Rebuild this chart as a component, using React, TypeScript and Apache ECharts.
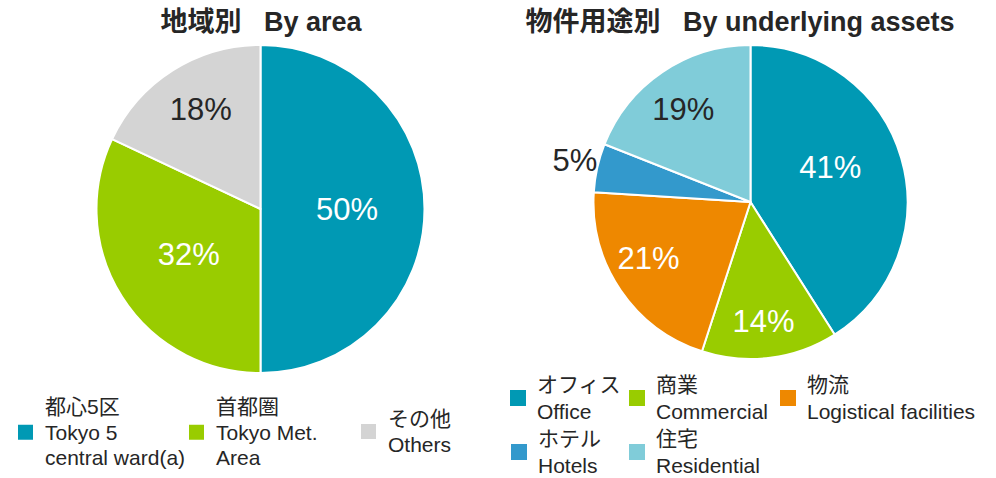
import React, { useEffect, useRef } from 'react';
import * as echarts from 'echarts';

// ---- Data ----
const areaTitle = '地域別   By area';
const areaNames = ['Tokyo 5 central ward(a)', 'Tokyo Met. Area', 'Others'];
const areaLabelsJa = ['都心5区', '首都圏', 'その他'];
const areaLabelsEn = ['Tokyo 5\ncentral ward(a)', 'Tokyo Met.\nArea', 'Others'];
const areaValues = [50, 32, 18];

const assetTitle = '物件用途別   By underlying assets';
const assetNames = ['Office', 'Commercial', 'Logistical facilities', 'Hotels', 'Residential'];
const assetLabelsJa = ['オフィス', '商業', '物流', 'ホテル', '住宅'];
const assetLabelsEn = ['Office', 'Commercial', 'Logistical facilities', 'Hotels', 'Residential'];
const assetValues = [41, 14, 21, 5, 19];

// ---- Styles ----
const areaColors = ['#0099B4', '#99CC00', '#D4D4D4'];
const assetColors = ['#0099B4', '#99CC00', '#EE8800', '#3399CC', '#80CCD9'];
const areaLabelMode = ['inner', 'inner', 'far'];
const assetLabelMode = ['inner', 'far', 'far', 'outside', 'far'];
const areaLabelDark = [false, false, true];
const assetLabelDark = [false, false, false, true, true];
// small label nudges (dx, dy) to follow the reference's label placement
const areaLabelNudge = [
  [1.5, 0],
  [0, 0],
  [2, -2],
];
const assetLabelNudge = [
  [1.5, -12],
  [-1.5, 4],
  [-6, -8.5],
  [0, -7],
  [-2, 3.5],
];

const FONT = "'Liberation Sans', Arial, 'Noto Sans CJK JP', sans-serif";
const TEXT = '#262626';
const LABEL_SIZE = 31;

const areaLegendPos = [
  { left: 18, top: 394 },
  { left: 189, top: 394 },
  { left: 361, top: 406 },
];
const assetLegendPos = [
  { left: 510, top: 371 },
  { left: 629, top: 371 },
  { left: 780, top: 371 },
  { left: 511, top: 425 },
  { left: 629, top: 425 },
];

function labelStyle(show: boolean, position: string, dark: boolean) {
  return {
    show,
    position,
    formatter: '{c}%',
    fontFamily: FONT,
    fontSize: LABEL_SIZE,
    color: dark ? TEXT : '#ffffff',
    distanceToLabelLine: 0,
  };
}

function buildPie(
  names: string[],
  values: number[],
  colors: string[],
  modes: string[],
  dark: boolean[],
  nudges: number[][],
  center: number[],
  radius: number,
  farRadius: number
) {
  const labelLayout = (p: any) => ({
    dx: nudges[p.dataIndex][0],
    dy: nudges[p.dataIndex][1],
  });
  const visible = {
    type: 'pie',
    center,
    radius,
    startAngle: 90,
    clockwise: true,
    avoidLabelOverlap: false,
    silent: true,
    itemStyle: { borderColor: '#ffffff', borderWidth: 2 },
    labelLine: { show: false, length: 0, length2: 0 },
    label: labelStyle(true, 'inside', false),
    labelLayout,
    data: names.map((n, i) => ({
      name: n,
      value: values[i],
      itemStyle: { color: colors[i] },
      label: labelStyle(
        modes[i] === 'inner' || modes[i] === 'outside',
        modes[i] === 'outside' ? 'outside' : 'inside',
        dark[i]
      ),
    })),
  };
  const carrier = {
    type: 'pie',
    center,
    radius: farRadius,
    startAngle: 90,
    clockwise: true,
    avoidLabelOverlap: false,
    silent: true,
    z: 3,
    itemStyle: { color: 'rgba(0,0,0,0)', borderWidth: 0 },
    labelLine: { show: false },
    label: labelStyle(true, 'inside', false),
    labelLayout,
    data: names.map((n, i) => ({
      name: n,
      value: values[i],
      label: labelStyle(modes[i] === 'far', 'inside', dark[i]),
    })),
  };
  return [visible, carrier];
}

function buildLegends(
  names: string[],
  ja: string[],
  en: string[],
  pos: { left: number; top: number }[],
  size: number,
  lineHeight: number,
  gap: number
) {
  return names.map((n, i) => ({
    data: [n],
    left: pos[i].left,
    top: pos[i].top,
    padding: 0,
    icon: 'rect',
    itemWidth: size,
    itemHeight: size,
    itemStyle: { borderWidth: 0 },
    selectedMode: false,
    formatter: () => ja[i] + '\n' + en[i],
    textStyle: {
      fontFamily: FONT,
      fontSize: 21,
      lineHeight,
      color: TEXT,
      padding: [0, 0, 0, gap],
    },
  }));
}

export default function App() {
  const ref = useRef<HTMLDivElement>(null);
  useEffect(() => {
    if (!ref.current) return;
    const chart = echarts.init(ref.current, undefined, { renderer: 'svg' });
    const titleStyle = { fontFamily: FONT, fontSize: 27, fontWeight: 'bold', color: TEXT };
    const option = {
      animation: false,
      backgroundColor: '#ffffff',
      title: [
        { text: areaTitle, left: 261, top: 8, padding: 0, textAlign: 'center', textStyle: titleStyle },
        { text: assetTitle, left: 740, top: 8, padding: 0, textAlign: 'center', textStyle: titleStyle },
      ],
      legend: [
        ...buildLegends(areaNames, areaLabelsJa, areaLabelsEn, areaLegendPos, 15, 25.5, 7),
        ...buildLegends(assetNames, assetLabelsJa, assetLabelsEn, assetLegendPos, 16, 27, 6),
      ],
      series: [
        ...buildPie(areaNames, areaValues, areaColors, areaLabelMode, areaLabelDark, areaLabelNudge, [260.5, 209], 164, 224),
        ...buildPie(assetNames, assetValues, assetColors, assetLabelMode, assetLabelDark, assetLabelNudge, [750.5, 202], 157, 226),
      ],
    };
    chart.setOption(option as any);
    return () => chart.dispose();
  }, []);
  return (
    <div
      ref={ref}
      style={{ position: 'fixed', left: 0, top: 0, width: 996, height: 478 }}
    />
  );
}
